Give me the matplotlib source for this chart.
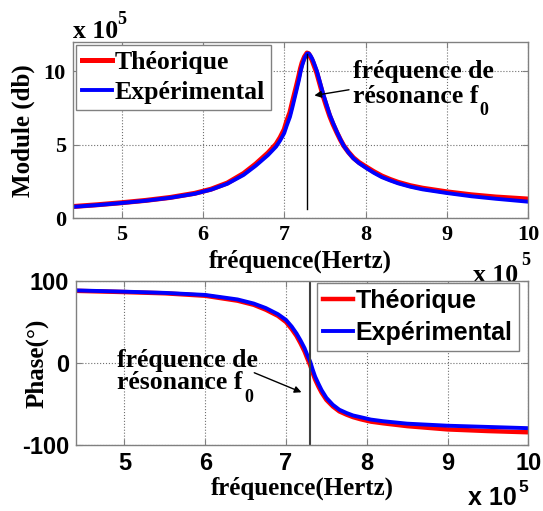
import numpy as np
import matplotlib
matplotlib.use('Agg')
import matplotlib.pyplot as plt

plt.rcParams['font.family'] = 'Liberation Serif'
plt.rcParams['font.weight'] = 'bold'
plt.rcParams['axes.labelweight'] = 'bold'

# module (x 1e5) vs frequency (x 1e5 Hz)
freq_mod = [4.4, 4.7, 5.0, 5.3, 5.6, 5.9, 6.1, 6.3, 6.5, 6.65, 6.8, 6.9, 6.95, 7.0, 7.03, 7.07,
            7.1, 7.15, 7.18, 7.2, 7.22, 7.25, 7.28, 7.3, 7.32, 7.34, 7.36, 7.4, 7.44, 7.48,
            7.52, 7.56, 7.6, 7.65, 7.69, 7.73, 7.79, 7.85, 7.92, 8.0, 8.1, 8.2, 8.3, 8.4,
            8.55, 8.7, 9.0, 9.3, 9.6, 10.0]
mod_theo = [0.80, 0.92, 1.06, 1.22, 1.42, 1.70, 1.98, 2.40, 3.05, 3.70, 4.45, 5.05, 5.50, 6.05,
            6.60, 7.20, 7.90, 9.00, 9.70, 10.20, 10.60, 11.00, 11.25, 11.20, 11.00, 10.80,
            10.50, 9.90, 9.10, 8.30, 7.60, 6.95, 6.40, 5.80, 5.35, 4.95, 4.50, 4.12, 3.80,
            3.52, 3.18, 2.88, 2.65, 2.45, 2.22, 2.05, 1.80, 1.60, 1.45, 1.31]
mod_exp = [0.78, 0.90, 1.04, 1.20, 1.40, 1.67, 1.95, 2.35, 2.95, 3.58, 4.30, 4.88, 5.30, 5.80,
           6.30, 6.90, 7.55, 8.70, 9.40, 9.95, 10.40, 10.90, 11.20, 11.22, 11.10, 10.90,
           10.65, 10.05, 9.25, 8.45, 7.75, 7.05, 6.50, 5.85, 5.38, 4.95, 4.48, 4.08, 3.75,
           3.45, 3.10, 2.80, 2.58, 2.38, 2.15, 1.97, 1.72, 1.50, 1.33, 1.13]

# phase (deg)
freq_ph = [4.4, 5.0, 5.5, 6.0, 6.4, 6.6, 6.75, 6.9, 7.0, 7.07, 7.13, 7.18, 7.23, 7.26, 7.3,
           7.33, 7.36, 7.4, 7.44, 7.5, 7.58, 7.66, 7.75, 7.83, 7.92, 8.05, 8.2, 8.5, 9.0,
           9.5, 10.0]
ph_theo = [88, 86.5, 85, 82, 76, 71, 65, 57.5, 50, 41.5, 33, 24, 14, 6.5, -3,
           -12, -20, -28.5, -36, -45, -53, -59, -63, -66, -68.5, -71.5, -73.5, -77, -81,
           -83, -84.5]
ph_exp = [88.5, 87, 85.5, 83, 77.5, 72.5, 67, 59.5, 52.5, 44.5, 36, 27.5, 18, 10.5, 1.5,
          -8, -16.5, -25, -33, -42.5, -51, -57, -61, -64, -66, -69, -71, -74, -76.5,
          -78, -79.5]

f0_mod = 7.28
f0_ph = 7.3
xticks = [5, 6, 7, 8, 9, 10]
labels = ['Théorique', 'Expérimental']

scale = 1e5
fm = np.array(freq_mod) * scale
fp = np.array(freq_ph) * scale

fig = plt.figure(figsize=(5.43, 5.11), dpi=100)
ax1 = fig.add_axes([0.1339, 0.5728, 0.839, 0.345])
ax2 = fig.add_axes([0.14, 0.1292, 0.833, 0.3209])

grey = '#808080'
for ax in (ax1, ax2):
    ax.set_xlim(4.4 * scale, 10 * scale)
    ax.set_xticks(np.array(xticks) * scale)
    ax.grid(True, linestyle=':', color='#707070', linewidth=0.8)
    ax.tick_params(direction='in', length=4, color=grey, top=True, right=True)
    for s in ax.spines.values():
        s.set_color(grey)
        s.set_linewidth(1.0)

# ---- module plot
l1, = ax1.plot(fm, np.array(mod_theo) * scale, color='red', lw=3.6, solid_joinstyle='round')
l2, = ax1.plot(fm, np.array(mod_exp) * scale, color='blue', lw=2.8, solid_joinstyle='round')
ax1.set_ylim(0, 12 * scale)
ax1.set_yticks([0, 5 * scale, 10 * scale])
ax1.set_yticklabels(['0', '5', '10'])
ax1.set_xticklabels([str(t) for t in xticks])
ax1.tick_params(labelsize=16, pad=5)
ax1.plot([f0_mod * scale, f0_mod * scale], [0.65 * scale, 11.2 * scale], color='k', lw=1)
ax1.set_xlabel('fréquence(Hertz)', fontsize=18)
ax1.xaxis.set_label_coords(0.5, -0.18)
ax1.set_ylabel('Module (db)', fontsize=18)
ax1.yaxis.set_label_coords(-0.082, 0.5)
ax1.text(0.0, 1.058, 'x 10', transform=ax1.transAxes, fontsize=18.5, va='center', ha='left')
ax1.text(0.097, 1.125, '5', transform=ax1.transAxes, fontsize=13, va='center', ha='left')
ax1.text(0.879, -0.322, 'x 10', transform=ax1.transAxes, fontsize=18.5, va='center', ha='left')
ax1.text(0.9845, -0.237, '5', transform=ax1.transAxes, fontsize=13, va='center', ha='left')
ax1.text(7.85 * scale, 9.98 * scale, 'fréquence de', fontsize=18.5, va='center', ha='left')
ax1.text(7.85 * scale, 8.28 * scale, 'résonance f', fontsize=18.5, va='center', ha='left')
ax1.text(9.40 * scale, 7.37 * scale, '0', fontsize=13, va='center', ha='left')
ax1.annotate('', xy=(7.337 * scale, 8.33 * scale), xytext=(7.83 * scale, 8.78 * scale),
             arrowprops=dict(arrowstyle='-|>', color='k', lw=1, mutation_scale=10))
leg1 = ax1.legend([l1, l2], labels, loc='upper left', bbox_to_anchor=(0.007, 0.983),
                  borderaxespad=0, fancybox=False, edgecolor=grey, framealpha=1,
                  prop={'family': 'Liberation Serif', 'weight': 'bold', 'size': 18.5},
                  handlelength=1.2, handletextpad=0.1, labelspacing=0.28, borderpad=0.22)
leg1.get_frame().set_linewidth(1.0)

# ---- phase plot
l3, = ax2.plot(fp, ph_theo, color='red', lw=3.2, solid_joinstyle='round')
l4, = ax2.plot(fp, ph_exp, color='blue', lw=2.8, solid_joinstyle='round')
ax2.set_ylim(-100, 100)
ax2.set_yticks([-100, 0, 100])
ax2.set_yticklabels(['-100', '0', '100'])
ax2.set_xticklabels([str(t) for t in xticks])
ax2.tick_params(labelsize=17, pad=5)
for lbl in ax2.get_xticklabels() + ax2.get_yticklabels():
    lbl.set_family('Liberation Sans')
ax2.axvline(f0_ph * scale, color='#404040', lw=1.5)
ax2.set_xlabel('fréquence(Hertz)', fontsize=18)
ax2.xaxis.set_label_coords(0.5, -0.195)
ax2.set_ylabel('Phase(°)', fontsize=18)
ax2.yaxis.set_label_coords(-0.06, 0.5)
ax2.text(0.867, -0.323, 'x 10', transform=ax2.transAxes, fontsize=18, va='center', ha='left',
         family='Liberation Sans')
ax2.text(0.977, -0.262, '5', transform=ax2.transAxes, fontsize=12.5, va='center', ha='left',
         family='Liberation Sans')
ax2.text(4.91 * scale, 3, 'fréquence de', fontsize=18.5, va='center', ha='left')
ax2.text(4.91 * scale, -24, 'résonance f', fontsize=18.5, va='center', ha='left')
ax2.text(6.49 * scale, -42, '0', fontsize=13, va='center', ha='left')
ax2.annotate('', xy=(7.223 * scale, -37), xytext=(6.575 * scale, -10.6),
             arrowprops=dict(arrowstyle='-|>', color='k', lw=1, mutation_scale=10))
leg2 = ax2.legend([l3, l4], labels, loc='upper right', bbox_to_anchor=(0.979, 0.988),
                  borderaxespad=0, fancybox=False, edgecolor=grey, framealpha=1,
                  prop={'family': 'Liberation Sans', 'weight': 'bold', 'size': 18},
                  handlelength=1.2, handletextpad=0.1, labelspacing=0.3, borderpad=0.25)
leg2.get_frame().set_linewidth(1.0)

fig.savefig('out.png', dpi=100)
